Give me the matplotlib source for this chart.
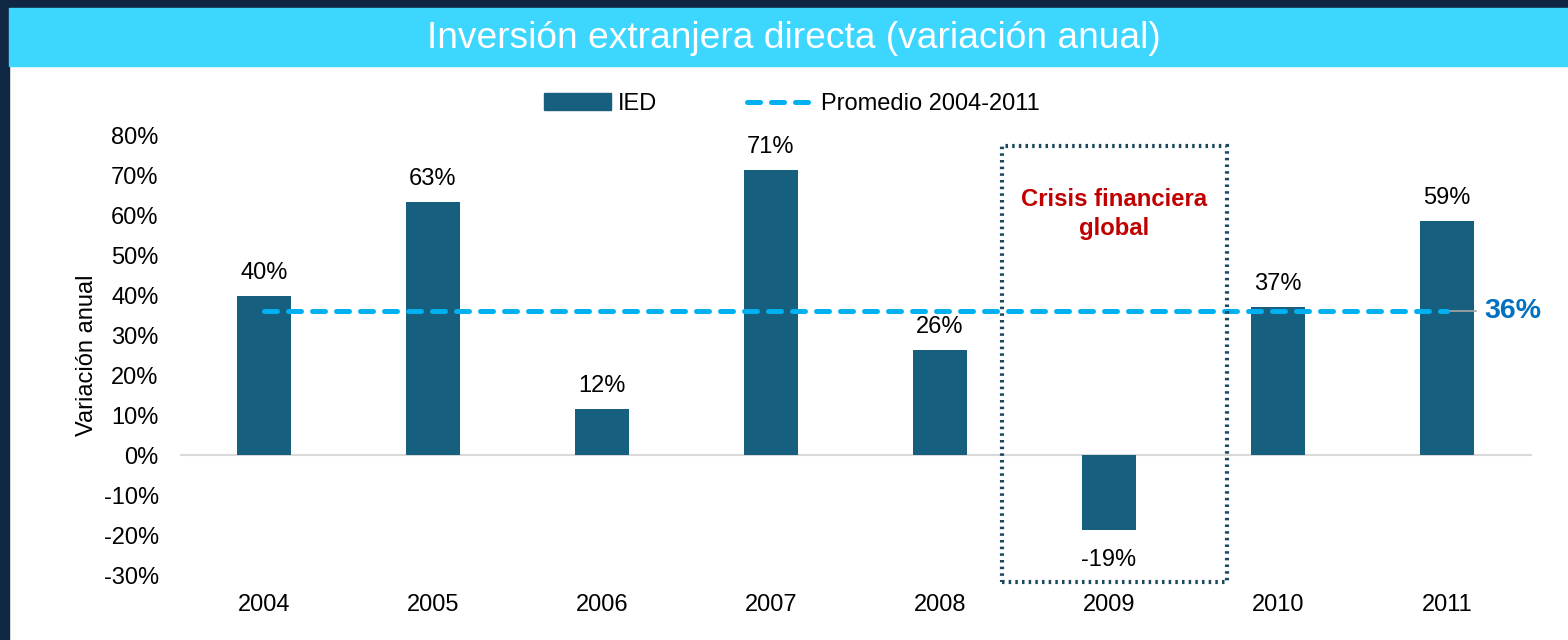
import numpy as np
import matplotlib
matplotlib.use("Agg")
import matplotlib.pyplot as plt
from matplotlib.patches import Rectangle
from matplotlib.lines import Line2D

plt.rcParams['font.family'] = ['Liberation Sans', 'DejaVu Sans']

# datos
years = ['2004', '2005', '2006', '2007', '2008', '2009', '2010', '2011']
ied = [39.8, 63.2, 11.6, 71.2, 26.2, -18.8, 37.0, 58.5]
labels = ['40%', '63%', '12%', '71%', '26%', '-19%', '37%', '59%']
promedio = 36.0
yticks = list(range(-30, 81, 10))

W, H = 1568, 640
fig = plt.figure(figsize=(W / 100, H / 100), dpi=100)
fig.patch.set_facecolor('white')

navy = '#0F2742'
cyan_band = '#3DD6FF'
bar_col = '#175F7F'
dash_col = '#00B0F0'

# marco y franja de titulo
fig.patches.append(Rectangle((0, 0), 9 / W, 1, transform=fig.transFigure, color=navy, zorder=0))
fig.patches.append(Rectangle((0, 1 - 8 / H), 1, 8 / H, transform=fig.transFigure, color=navy, zorder=0))
fig.patches.append(Rectangle((9 / W, 1 - 66 / H), 1 - 9 / W, 58 / H, transform=fig.transFigure,
                             color=cyan_band, zorder=0))
fig.text(794 / W, 1 - 38 / H, 'Inversión extranjera directa (variación anual)',
         color='white', fontsize=26.7, ha='center', va='center')

ax = fig.add_axes([179.5 / W, (H - 575) / H, (1531.5 - 179.5) / W, 440 / H])
x = np.arange(len(years))
ax.bar(x, ied, width=0.32, color=bar_col, zorder=2, label='IED')
ax.set_xlim(-0.5, len(years) - 0.5)
ax.set_ylim(-30, 80)
ax.set_yticks(yticks)
ax.set_yticklabels([f'{t}%' for t in yticks])
ax.set_xticks(x)
ax.set_xticklabels(years)
ax.tick_params(length=0, labelsize=17, colors='black')
ax.tick_params(axis='y', pad=15)
ax.tick_params(axis='x', pad=14)
ax.xaxis.set_ticks_position('none')
for s in ax.spines.values():
    s.set_visible(False)
ax.axhline(0, color='#D9D9D9', lw=1.5, zorder=1)
ax.set_facecolor('none')
ax.set_ylabel('Variación anual', fontsize=17, labelpad=4)

for xi, v, lab in zip(x, ied, labels):
    if v >= 0:
        ax.text(xi, v + 3.0, lab, ha='center', va='bottom', fontsize=17)
    else:
        ax.text(xi, v - 4.6, lab, ha='center', va='top', fontsize=17)

# linea de promedio
ax.plot([x[0], x[-1]], [promedio, promedio], color=dash_col, lw=3.6,
        dashes=(2.6, 2.2), dash_capstyle='round', zorder=3, label='Promedio 2004-2011')
ax.plot([x[-1], x[-1] + 0.17], [promedio, promedio], color='#A6A6A6', lw=1.2, zorder=2, clip_on=False)
ax.text(x[-1] + 0.22, promedio, f'{promedio:.0f}%', color='#0070C0', fontsize=20.5,
        fontweight='bold', ha='left', va='center', clip_on=False)

# recuadro crisis
ax.add_patch(Rectangle((4.367, -31.75), 1.331, 109.0, fill=False, edgecolor='#1B4A60',
                       lw=3.0, linestyle=(0, (0.6, 1.0)), zorder=4, clip_on=False))
ax.text(5.03, 60.3, 'Crisis financiera\nglobal', color='#C00000', fontsize=17.2,
        fontweight='bold', ha='center', va='center', linespacing=1.3)

handles = [Rectangle((0, 0), 1, 1, color=bar_col),
           Line2D([0], [0], color=dash_col, lw=3.6, dashes=(2.6, 2.2), dash_capstyle='round')]
fig.legend(handles, ['IED', 'Promedio 2004-2011'], loc='center', ncol=2,
           bbox_to_anchor=(0.505, 1 - 104 / H), frameon=False, fontsize=17,
           handlelength=2.85, handletextpad=0.3, columnspacing=3.8)

fig.savefig('out.png', dpi=100, facecolor=fig.get_facecolor())
